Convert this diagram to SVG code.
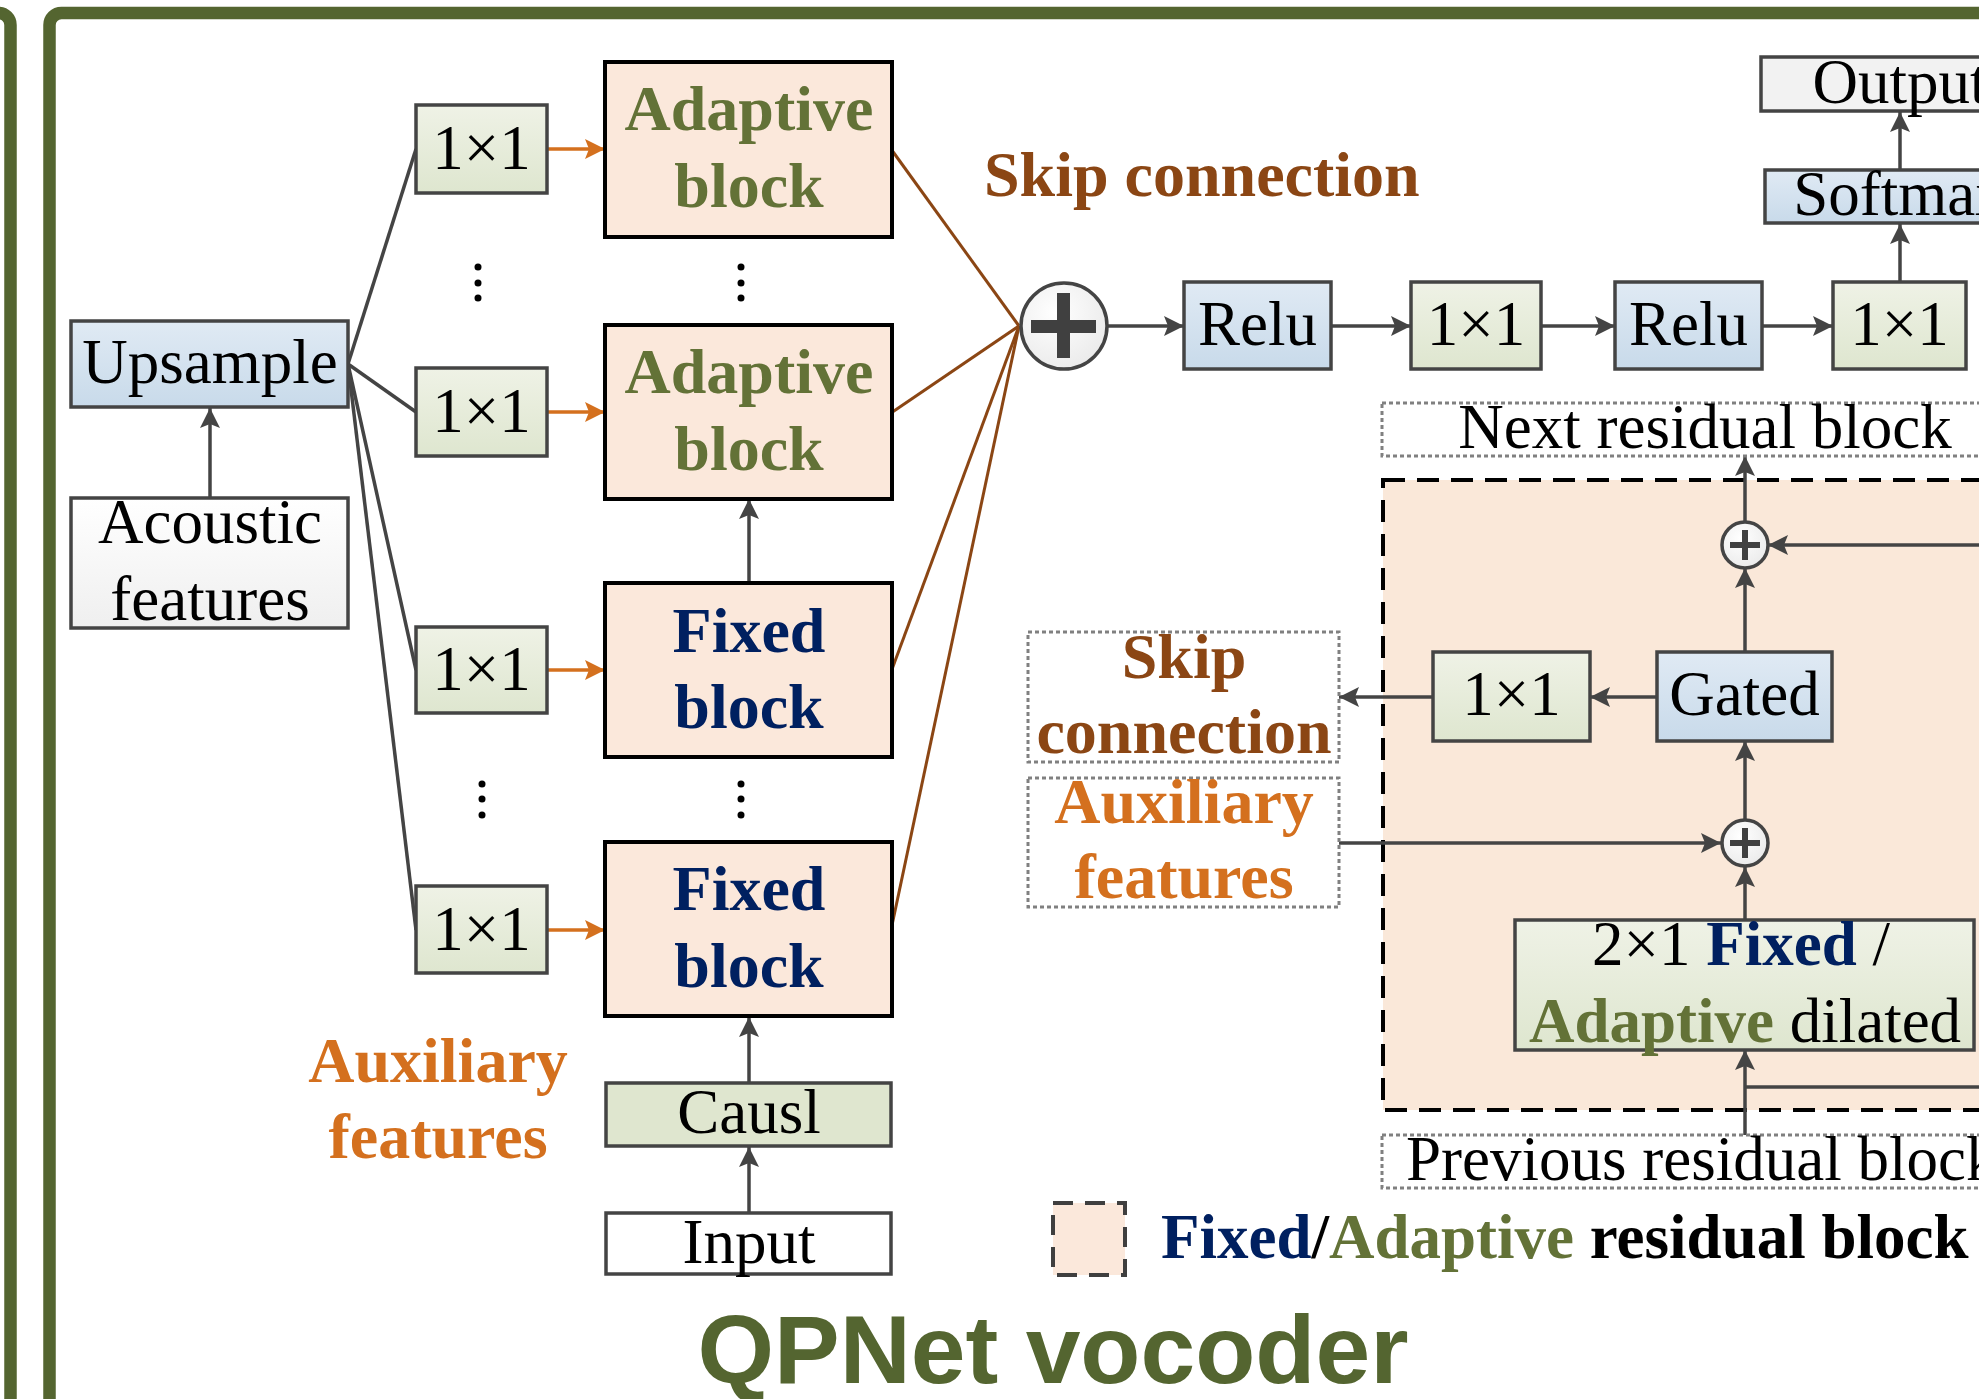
<svg xmlns="http://www.w3.org/2000/svg" width="1979" height="1399" viewBox="0 0 1979 1399">
<defs>
<style>
text{font-family:"Liberation Serif","Times New Roman",serif;font-size:63px;fill:#000}
.c{text-anchor:middle}
.b{font-weight:bold;font-size:64px}
.navy{fill:#002060}
.olive{fill:#637237}
.orange{fill:#D4701E}
.brown{fill:#8B4614}
.box{stroke:#444;stroke-width:3.5}
.grn{fill:url(#gGreen)}
.blu{fill:url(#gBlue)}
.gry{fill:url(#gGray)}
.blk{fill:#FBE8DB;stroke:#000;stroke-width:4}
.dot{fill:#fff;stroke:#808080;stroke-width:3;stroke-dasharray:4 3}
.con{stroke:#444;stroke-width:3.5;fill:none}
.conA{stroke:#444;stroke-width:3.5;fill:none;marker-end:url(#ah)}
.conO{stroke:#D4701E;stroke-width:3.5;fill:none;marker-end:url(#ao)}
.skip{stroke:#8B4614;stroke-width:3;fill:none}
.frame{fill:none;stroke:#546530;stroke-width:12.5}
.plus{fill:url(#gCircle);stroke:#444;stroke-width:3.5}
.pl{fill:#404040}
.ell{fill:#000}
</style>
<linearGradient id="gGreen" x1="0" y1="0" x2="0" y2="1"><stop offset="0" stop-color="#EFF2E6"/><stop offset="1" stop-color="#DEE6CF"/></linearGradient>
<linearGradient id="gBlue" x1="0" y1="0" x2="0" y2="1"><stop offset="0" stop-color="#E0EAF4"/><stop offset="1" stop-color="#C8DAEA"/></linearGradient>
<linearGradient id="gGray" x1="0" y1="0" x2="0" y2="1"><stop offset="0" stop-color="#FFFFFF"/><stop offset="1" stop-color="#EFEFEF"/></linearGradient>
<radialGradient id="gCircle" cx="0.4" cy="0.35" r="0.7"><stop offset="0" stop-color="#FFFFFF"/><stop offset="1" stop-color="#EAEAEA"/></radialGradient>
<marker id="ah" viewBox="0 0 20 20" refX="20" refY="10" markerWidth="20" markerHeight="20" markerUnits="userSpaceOnUse" orient="auto"><path d="M0,0 L20,10 L0,20 L4,10 z" fill="#444"/></marker>
<marker id="ao" viewBox="0 0 20 20" refX="20" refY="10" markerWidth="20" markerHeight="20" markerUnits="userSpaceOnUse" orient="auto"><path d="M0,0 L20,10 L0,20 L4,10 z" fill="#D4701E"/></marker>
</defs>
<rect x="0" y="0" width="1979" height="1399" fill="#fff"/>

<g id="frames">
<rect class="frame" x="-2000" y="13" width="2010.5" height="1500" rx="12"/>
<rect class="frame" x="49.5" y="13" width="2100" height="1500" rx="12"/>
</g>

<g id="residual-region">
<rect x="1383" y="480" width="700" height="630" fill="#FAE8D9" stroke="#000" stroke-width="4" stroke-dasharray="22 12"/>
</g>

<g id="connectors">
<line class="conA" x1="210" y1="498" x2="210" y2="408"/>
<line class="con" x1="348" y1="364" x2="416" y2="149"/>
<line class="con" x1="348" y1="364" x2="416" y2="412"/>
<line class="con" x1="348" y1="364" x2="416" y2="670"/>
<line class="con" x1="348" y1="364" x2="416" y2="930"/>
<line class="conO" x1="547" y1="149" x2="605" y2="149"/>
<line class="conO" x1="547" y1="412" x2="605" y2="412"/>
<line class="conO" x1="547" y1="670" x2="605" y2="670"/>
<line class="conO" x1="547" y1="930" x2="605" y2="930"/>
<line class="conA" x1="749" y1="583" x2="749" y2="499"/>
<line class="conA" x1="749" y1="1083" x2="749" y2="1017"/>
<line class="conA" x1="749" y1="1213" x2="749" y2="1147"/>
<line class="skip" x1="891" y1="149" x2="1019" y2="326"/>
<line class="skip" x1="891" y1="413" x2="1019" y2="326"/>
<line class="skip" x1="891" y1="672" x2="1019" y2="326"/>
<line class="skip" x1="891" y1="930" x2="1019" y2="326"/>
<line class="conA" x1="1107" y1="326" x2="1184" y2="326"/>
<line class="conA" x1="1331" y1="326" x2="1411" y2="326"/>
<line class="conA" x1="1541" y1="326" x2="1615" y2="326"/>
<line class="conA" x1="1762" y1="326" x2="1833" y2="326"/>
<line class="conA" x1="1900" y1="282" x2="1900" y2="224"/>
<line class="conA" x1="1900" y1="170" x2="1900" y2="112"/>
<line class="conA" x1="1745" y1="522" x2="1745" y2="456"/>
<line class="conA" x1="2000" y1="545" x2="1768" y2="545"/>
<line class="conA" x1="1745" y1="652" x2="1745" y2="568"/>
<line class="conA" x1="1657" y1="697" x2="1590" y2="697"/>
<line class="conA" x1="1433" y1="697" x2="1339" y2="697"/>
<line class="conA" x1="1339" y1="843" x2="1721" y2="843"/>
<line class="conA" x1="1745" y1="820" x2="1745" y2="741"/>
<line class="conA" x1="1745" y1="920" x2="1745" y2="867"/>
<line class="conA" x1="1745" y1="1135" x2="1745" y2="1050"/>
<line class="con" x1="1745" y1="1087" x2="2000" y2="1087"/>
</g>

<g id="acoustic">
<rect class="box gry" x="71" y="498" width="277" height="130"/>
<text class="c" x="210" y="543">Acoustic</text>
<text class="c" x="210" y="620">features</text>
</g>
<g id="upsample">
<rect class="box blu" x="71" y="321" width="277" height="86"/>
<text class="c" x="210" y="383">Upsample</text>
</g>

<g id="conv1">
<rect class="box grn" x="416" y="105" width="131" height="88"/>
<text class="c" x="481.5" y="169">1×1</text>
</g>
<g id="conv2">
<rect class="box grn" x="416" y="368" width="131" height="88"/>
<text class="c" x="481.5" y="432">1×1</text>
</g>
<g id="conv3">
<rect class="box grn" x="416" y="627" width="131" height="86"/>
<text class="c" x="481.5" y="690">1×1</text>
</g>
<g id="conv4">
<rect class="box grn" x="416" y="886" width="131" height="87"/>
<text class="c" x="481.5" y="950">1×1</text>
</g>

<g id="dots">
<circle class="ell" cx="478" cy="267" r="3.5"/><circle class="ell" cx="478" cy="283" r="3.5"/><circle class="ell" cx="478" cy="298" r="3.5"/>
<circle class="ell" cx="741" cy="267" r="3.5"/><circle class="ell" cx="741" cy="283" r="3.5"/><circle class="ell" cx="741" cy="298" r="3.5"/>
<circle class="ell" cx="482" cy="784" r="3.5"/><circle class="ell" cx="482" cy="799" r="3.5"/><circle class="ell" cx="482" cy="815" r="3.5"/>
<circle class="ell" cx="741" cy="784" r="3.5"/><circle class="ell" cx="741" cy="799" r="3.5"/><circle class="ell" cx="741" cy="815" r="3.5"/>
</g>

<g id="adaptive1">
<rect class="blk" x="605" y="62" width="287" height="175"/>
<text class="c b olive" x="749" y="130">Adaptive</text>
<text class="c b olive" x="749" y="207">block</text>
</g>
<g id="adaptive2">
<rect class="blk" x="605" y="325" width="287" height="174"/>
<text class="c b olive" x="749" y="393">Adaptive</text>
<text class="c b olive" x="749" y="470">block</text>
</g>
<g id="fixed1">
<rect class="blk" x="605" y="583" width="287" height="174"/>
<text class="c b navy" x="749" y="652">Fixed</text>
<text class="c b navy" x="749" y="728">block</text>
</g>
<g id="fixed2">
<rect class="blk" x="605" y="842" width="287" height="174"/>
<text class="c b navy" x="749" y="910">Fixed</text>
<text class="c b navy" x="749" y="987">block</text>
</g>
<g id="causl">
<rect class="box" fill="#DFE6CF" x="606" y="1083" width="285" height="63"/>
<text class="c" x="749" y="1133">Causl</text>
</g>
<g id="input">
<rect class="box" fill="#fff" x="606" y="1213" width="285" height="61"/>
<text class="c" x="749" y="1263">Input</text>
</g>
<g id="aux-left">
<text class="c b orange" x="438" y="1082">Auxiliary</text>
<text class="c b orange" x="438" y="1158">features</text>
</g>
<g id="skip-label">
<text class="b brown" x="984" y="196">Skip connection</text>
</g>

<g id="sum">
<circle class="plus" cx="1064" cy="326" r="43"/>
<rect class="pl" x="1057" y="293" width="13" height="65"/>
<rect class="pl" x="1031" y="320" width="65" height="13"/>
</g>
<g id="relu1">
<rect class="box blu" x="1184" y="282" width="147" height="87"/>
<text class="c" x="1257.5" y="345">Relu</text>
</g>
<g id="conv5">
<rect class="box grn" x="1411" y="282" width="130" height="87"/>
<text class="c" x="1476" y="345">1×1</text>
</g>
<g id="relu2">
<rect class="box blu" x="1615" y="282" width="147" height="87"/>
<text class="c" x="1688.5" y="345">Relu</text>
</g>
<g id="conv6">
<rect class="box grn" x="1833" y="282" width="133" height="87"/>
<text class="c" x="1899.5" y="345">1×1</text>
</g>
<g id="softmax">
<rect class="box blu" x="1765" y="170" width="270" height="53"/>
<text class="c" x="1900" y="215">Softmax</text>
</g>
<g id="output">
<rect class="box" fill="#F2F2F2" x="1761" y="57" width="278" height="54"/>
<text class="c" x="1900" y="103">Output</text>
</g>

<g id="next-residual">
<rect class="dot" x="1382" y="403" width="646" height="53"/>
<text class="c" x="1705" y="448">Next residual block</text>
</g>
<g id="sum-top">
<circle class="plus" cx="1745" cy="545" r="23"/>
<rect class="pl" x="1742" y="530" width="6" height="30"/>
<rect class="pl" x="1730" y="542" width="30" height="6"/>
</g>
<g id="gated">
<rect class="box blu" x="1657" y="652" width="175" height="89"/>
<text class="c" x="1744.5" y="715">Gated</text>
</g>
<g id="conv-res">
<rect class="box grn" x="1433" y="652" width="157" height="89"/>
<text class="c" x="1511.5" y="715">1×1</text>
</g>
<g id="skip-box">
<rect class="dot" x="1028" y="632" width="311" height="130"/>
<text class="c b brown" x="1184" y="678">Skip</text>
<text class="c b brown" x="1184" y="753">connection</text>
</g>
<g id="aux-box">
<rect class="dot" x="1028" y="778" width="311" height="129"/>
<text class="c b orange" x="1184" y="823">Auxiliary</text>
<text class="c b orange" x="1184" y="898">features</text>
</g>
<g id="sum-bottom">
<circle class="plus" cx="1745" cy="843" r="23"/>
<rect class="pl" x="1742" y="828" width="6" height="30"/>
<rect class="pl" x="1730" y="840" width="30" height="6"/>
</g>
<g id="dilated">
<rect class="box grn" x="1515" y="920" width="459" height="130"/>
<text class="c" x="1741" y="965">2×1 <tspan class="b navy" style="font-size:63px">Fixed</tspan> /</text>
<text class="c" x="1745" y="1042"><tspan class="b olive" style="font-size:63px">Adaptive</tspan> dilated</text>
</g>
<g id="prev-residual">
<rect class="dot" x="1382" y="1135" width="646" height="53"/>
<text x="1406" y="1180">Previous residual block</text>
</g>

<g id="legend">
<rect x="1053" y="1203" width="72" height="72" fill="#FBE8DB" stroke="#3F3F3F" stroke-width="4" stroke-dasharray="20 12"/>
<text class="b" x="1161" y="1258" style="font-size:63px"><tspan class="navy">Fixed</tspan><tspan>/</tspan><tspan class="olive">Adaptive</tspan> residual block</text>
</g>

<g id="title">
<text x="1053" y="1383" text-anchor="middle" textLength="711" lengthAdjust="spacingAndGlyphs" style="font-family:'Liberation Sans',Arial,sans-serif;font-weight:bold;font-size:96px;fill:#546530">QPNet vocoder</text>
</g>
</svg>
